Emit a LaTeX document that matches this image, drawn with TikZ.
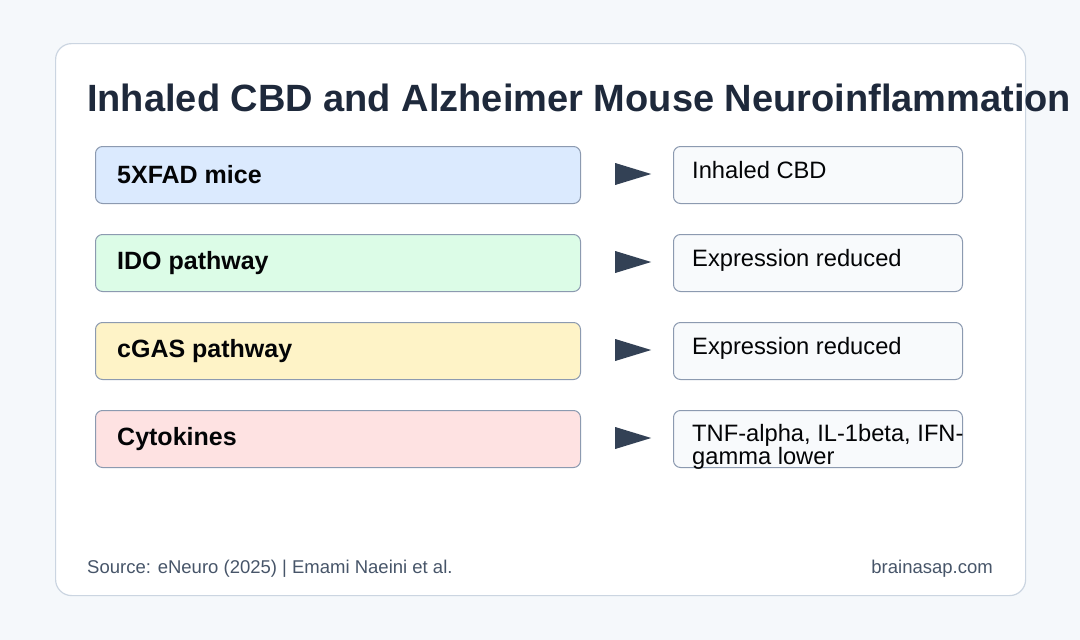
\documentclass[tikz,border=0pt]{standalone}
\usepackage{fontspec}
\setmainfont{Liberation Sans}
\usetikzlibrary{shapes.geometric}
\definecolor{bg}{HTML}{F5F8FB}
\definecolor{cardline}{HTML}{CBD5E1}
\definecolor{boxline}{HTML}{8C9AB0}
\definecolor{ink}{HTML}{1E293B}
\definecolor{cb}{HTML}{DBEAFE}
\definecolor{cg}{HTML}{DCFCE7}
\definecolor{cy}{HTML}{FEF3C7}
\definecolor{cr}{HTML}{FEE2E2}
\definecolor{cw}{HTML}{F8FAFC}
\definecolor{arr}{HTML}{334155}
\definecolor{foot}{HTML}{475569}
\tikzset{
 leftbox/.style={draw=boxline,line width=1pt,rounded corners=7pt,minimum width=485pt,minimum height=57pt,anchor=north west,inner sep=0pt},
 rightbox/.style={draw=boxline,fill=cw,line width=1pt,rounded corners=7pt,minimum width=289pt,minimum height=57pt,anchor=north west,inner sep=0pt},
 lefttext/.style={anchor=west,inner sep=0pt,font=\fontsize{25}{28}\selectfont\bfseries,text=black!90!ink},
 righttext/.style={anchor=north west,font=\fontsize{23.7}{23}\selectfont,text=black!90!ink,align=left,inner sep=0pt},
 tri/.style={isosceles triangle,fill=arr,draw=none,minimum height=36pt,minimum width=22pt,isosceles triangle stretches,inner sep=0pt,anchor=west}
}
\begin{document}
\begin{tikzpicture}[x=1pt,y=-1pt]
\fill[bg] (0,0) rectangle (1080,640);
\useasboundingbox (0,0) rectangle (1080,640);
\node[draw=cardline,fill=white,line width=1.2pt,rounded corners=16pt,minimum width=970pt,minimum height=552pt,anchor=north west,inner sep=0pt] (card) at (55,43) {};
\node[anchor=base west,inner sep=0pt,font=\fontsize{38}{44}\selectfont\bfseries,text=ink] (title) at (87,111) {Inhaled CBD and Alzheimer Mouse Neuroinflammation};
\foreach \i/\y/\c/\l/\r in {1/146/cb/5XFAD mice/Inhaled CBD,2/234/cg/IDO pathway/Expression reduced,3/322/cy/cGAS pathway/Expression reduced}{
 \node[leftbox,fill=\c] (l\i) at (95,\y) {};
 \node[lefttext] (lt\i) at (117,\y+29) {\l};
 \node[tri] (a\i) at (615,\y+28) {};
 \node[rightbox] (r\i) at (673,\y) {};
 \node[righttext] (rt\i) at (692,\y+15) {\r};
}
\node[leftbox,fill=cr] (l4) at (95,410) {};
\node[lefttext] (lt4) at (117,439) {Cytokines};
\node[tri] (a4) at (615,438) {};
\node[rightbox] (r4) at (673,410) {};
\node[righttext] (rt4) at (692,424) {TNF-alpha, IL-1beta, IFN-\\gamma lower};
\node[anchor=base west,inner sep=0pt,font=\fontsize{18.5}{20}\selectfont,text=foot] (src) at (87,573) {Source: eNeuro (2025) | Emami Naeini et al.};
\node[anchor=base east,inner sep=0pt,font=\fontsize{18.5}{20}\selectfont,text=foot] (site) at (993,573) {brainasap.com};
\end{tikzpicture}
\end{document}
